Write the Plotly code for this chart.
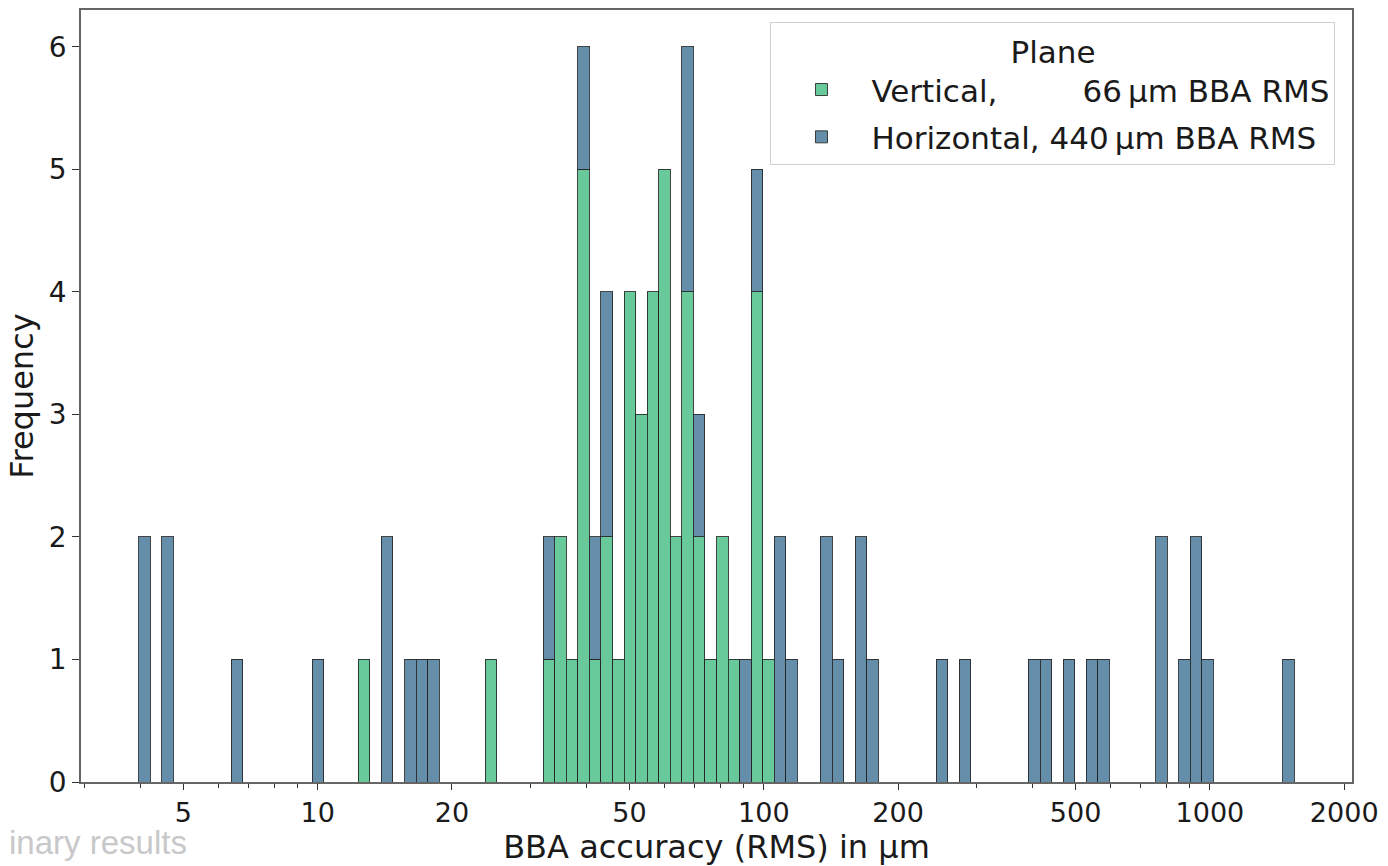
import numpy as np
import plotly.graph_objects as go

# ---- data -------------------------------------------------------------
# histogram bins are uniform in log10(BBA accuracy / µm)
LOG_EDGE_MIN = 0.599   # ~3.97 µm
LOG_EDGE_MAX = 3.189   # ~1545 µm
N_BINS = 100

# non-empty bins (bin index) and their counts
vertical_bins = [19, 30, 35, 36, 37, 38, 39, 40, 41, 42, 43, 44, 45, 46, 47,
                 48, 49, 50, 51, 53, 54]
vertical_counts = [1, 1, 1, 2, 1, 5, 1, 2, 1, 4, 3, 4, 5, 2, 4,
                   2, 1, 2, 1, 4, 1]
horizontal_bins = [0, 2, 8, 15, 21, 23, 24, 25, 35, 38, 39, 40, 47, 48, 52, 53,
                   55, 56, 59, 60, 62, 63, 69, 71, 77, 78, 80, 82, 83, 88, 90,
                   91, 92, 99]
horizontal_counts = [2, 2, 1, 1, 2, 1, 1, 1, 1, 1, 1, 2, 2, 1, 1, 1,
                     2, 1, 2, 1, 2, 1, 1, 1, 1, 1, 1, 1, 1, 2, 1,
                     2, 1, 1]

series_names = ["Vertical,\u00a0\u00a0\u00a0\u00a0\u00a0\u00a0\u2007\u200966\u2009µm BBA RMS",
                "Horizontal, 440\u2009µm BBA RMS"]
major_ticks = [5, 10, 20, 50, 100, 200, 500, 1000, 2000]
minor_ticks = [3, 4, 6, 7, 8, 9, 30, 40, 60, 70, 80, 90,
               300, 400, 600, 700, 800, 900]

# ---- figure -------------------------------------------------------------
edges = np.linspace(LOG_EDGE_MIN, LOG_EDGE_MAX, N_BINS + 1)
centers = (edges[:-1] + edges[1:]) / 2
bw = edges[1] - edges[0]
span = LOG_EDGE_MAX - LOG_EDGE_MIN
xrange = [LOG_EDGE_MIN - 0.05 * span, LOG_EDGE_MAX + 0.05 * span]

GREEN = "rgb(104,201,155)"
BLUE = "rgb(100,142,170)"
EDGE = "rgba(35,35,35,0.85)"

fig = go.Figure()
fig.add_trace(go.Bar(
    x=centers[vertical_bins], y=vertical_counts, width=bw,
    name=series_names[0], legendgroup="v",
    marker=dict(color=GREEN, line=dict(color=EDGE, width=1)),
))
fig.add_trace(go.Bar(
    x=centers[horizontal_bins], y=horizontal_counts, width=bw,
    name=series_names[1], legendgroup="h",
    marker=dict(color=BLUE, line=dict(color=EDGE, width=1)),
))

FONT = "DejaVu Sans"
TXT = "#1a1a1a"
fig.update_layout(
    barmode="stack",
    width=1388, height=866,
    margin=dict(l=81, r=36, t=8, b=81),
    paper_bgcolor="white", plot_bgcolor="white",
    font=dict(family=FONT, size=29, color=TXT),
    showlegend=True,
    legend=dict(
        x=0.987, y=0.985, xanchor="right", yanchor="top",
        traceorder="grouped", tracegroupgap=4, itemwidth=90,
        bgcolor="rgba(255,255,255,0.85)", bordercolor="#d0d0d0", borderwidth=1,
        font=dict(family=FONT, size=31, color=TXT),
        title=dict(text="Plane", side="top center", font=dict(family=FONT, size=31, color=TXT)),
    ),
    xaxis=dict(
        range=xrange, showgrid=False, zeroline=False,
        tickmode="array", tickvals=np.log10(major_ticks).tolist(),
        ticktext=[str(t) for t in major_ticks],
        ticks="outside", ticklen=6, tickwidth=1, tickcolor="#333",
        minor=dict(tickmode="array", tickvals=np.log10(minor_ticks).tolist(),
                   ticks="outside", ticklen=4, tickwidth=1, tickcolor="#333",
                   showgrid=False),
        showline=True, linecolor="#666", linewidth=1.5, mirror=True,
        tickfont=dict(family=FONT, size=27, color=TXT),
        title=dict(text="BBA accuracy (RMS) in µm", font=dict(family=FONT, size=32, color=TXT),
                   standoff=7),
    ),
    yaxis=dict(
        range=[0, 6.3], showgrid=False, zeroline=False,
        tickmode="linear", tick0=0, dtick=1,
        ticks="outside", ticklen=7, tickwidth=1, tickcolor="#333",
        showline=True, linecolor="#666", linewidth=1.5, mirror=True,
        tickfont=dict(family=FONT, size=28, color=TXT),
        title=dict(text="Frequency", font=dict(family=FONT, size=32, color=TXT), standoff=6),
    ),
    annotations=[dict(
        text="inary results", xref="paper", yref="paper",
        x=(8 - 81) / 1270, y=-(866 - 785 - 0.5) / 777, xanchor="left", yanchor="bottom",
        showarrow=False, borderpad=0,
        font=dict(family="Liberation Sans", size=33, color="rgb(200,200,202)"),
    )],
)

fig.write_html("out.html")
